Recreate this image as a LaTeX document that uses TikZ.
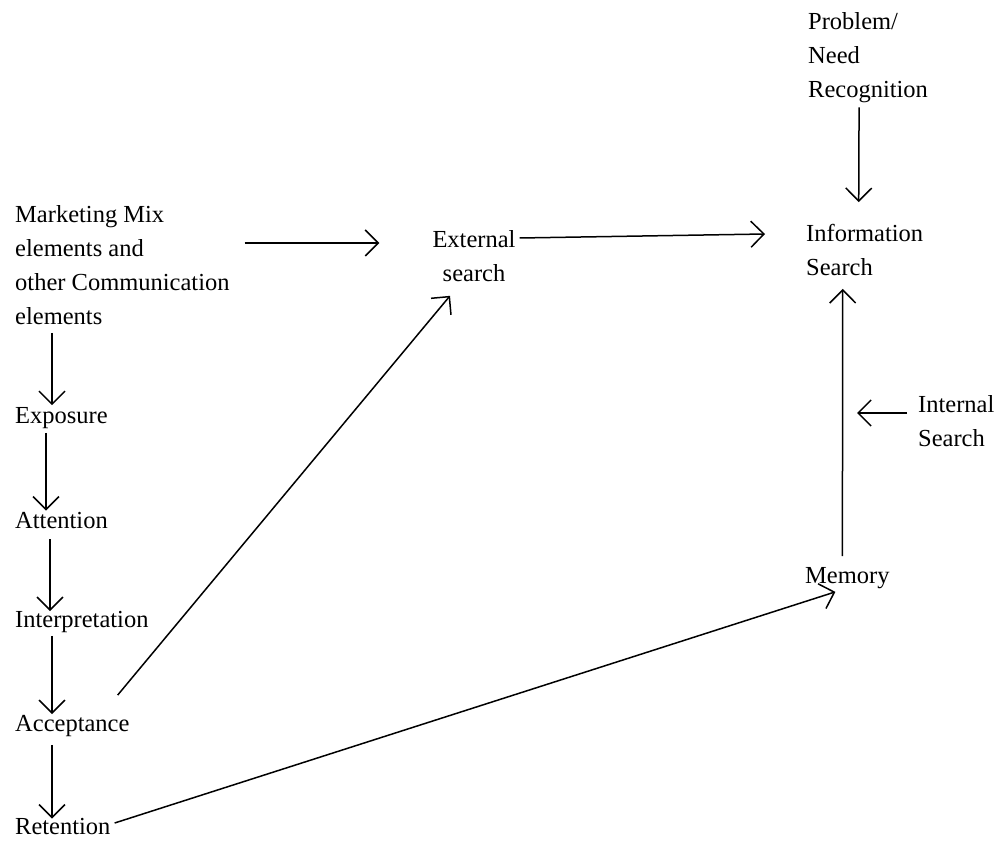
\documentclass[tikz,border=0pt]{standalone}
\usepackage{fontspec}
\setmainfont{Liberation Serif}
\usetikzlibrary{arrows.meta}
\begin{document}
\begin{tikzpicture}[x=1pt,y=-1pt,
  lbl/.style={inner sep=0pt,anchor=west,align=left,font=\fontsize{24.5}{34}\selectfont},
  arr/.style={line width=1.5pt,-{Straight Barb[length=13pt,width=26pt,line width=1.5pt]}}]
\useasboundingbox (0,0) rectangle (1004,842);
% nodes
\node[lbl] (prob) at (808,58) {Problem/\\Need\\Recognition};
\node[lbl] (info) at (806,250) {Information\\Search};
\node[lbl] (mem) at (805,578) {Memory};
\node[lbl] (intl) at (918,421) {Internal\\Search};
\node[lbl] (mm) at (15,265) {Marketing Mix\\elements and\\other Communication\\elements};
\node[lbl,anchor=center,align=center] (ext) at (474,256) {External\\search};
\node[lbl] (expo) at (15,418) {Exposure};
\node[lbl] (att) at (15,521) {Attention};
\node[lbl] (interp) at (15,622) {Interpretation};
\node[lbl] (acc) at (15,726) {Acceptance};
\node[lbl] (ret) at (15,827) {Retention};
\coordinate (ihead) at (857,413);
% connectors
\draw[arr] ([xshift=-9pt,yshift=-4pt]prob.south) -- ([xshift=-6pt,yshift=22pt]info.north);
\draw[arr] ([xshift=-5pt,yshift=11pt]mem.north) -- ([xshift=-22pt,yshift=-13pt]info.south);
\draw[arr] ([xshift=-11pt,yshift=8pt]intl.west) -- (ihead);
\draw[arr] ([xshift=15pt,yshift=22pt]mm.east) -- ([xshift=-53pt,yshift=13pt]ext.west);
\draw[arr] ([xshift=4pt,yshift=18pt]ext.east) -- ([xshift=-41pt,yshift=16pt]info.west);
\draw[arr] ([xshift=37pt,yshift=-8pt]mm.south west) -- ([xshift=37pt,yshift=2pt]expo.north west);
\draw[arr] ([xshift=31pt,yshift=-4pt]expo.south west) -- ([xshift=31pt,yshift=2pt]att.north west);
\draw[arr] ([xshift=35pt,yshift=-10pt]att.south west) -- ([xshift=35pt,yshift=0pt]interp.north west);
\draw[arr] ([xshift=37pt,yshift=-3pt]interp.south west) -- ([xshift=37pt,yshift=1pt]acc.north west);
\draw[arr] ([xshift=37pt,yshift=-8pt]acc.south west) -- ([xshift=37pt,yshift=0pt]ret.north west);
\draw[arr] ([xshift=-12pt,yshift=20pt]acc.north east) -- ([xshift=-24pt,yshift=-14pt]ext.south);
\draw[arr] ([xshift=4pt,yshift=4pt]ret.east) -- ([xshift=-12pt,yshift=-3pt]mem.south);
\end{tikzpicture}
\end{document}
